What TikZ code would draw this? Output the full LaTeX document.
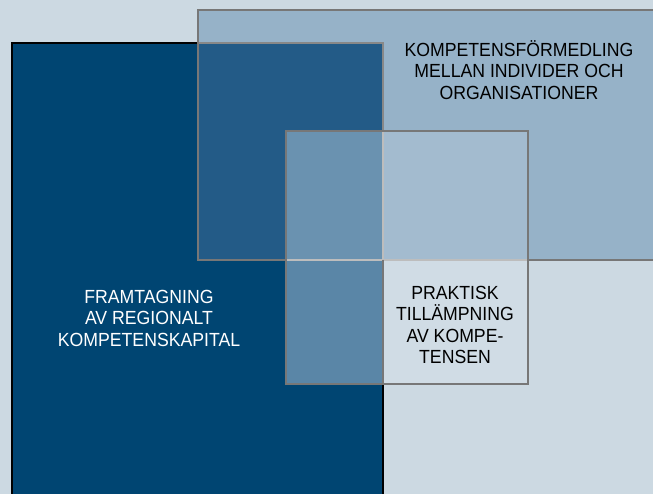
\documentclass[tikz,border=0pt]{standalone}
\usepackage{fontspec}
\newfontfamily\labfont[FakeStretch=0.93]{Liberation Sans}
\definecolor{bgc}{RGB}{204,217,226}
\definecolor{dk}{RGB}{0,69,114}
\definecolor{tp}{RGB}{150,178,200}
\definecolor{dt}{RGB}{35,91,135}
\definecolor{idt}{RGB}{106,146,176}
\definecolor{itc}{RGB}{163,187,207}
\definecolor{idc}{RGB}{90,134,167}
\definecolor{ioc}{RGB}{208,220,229}
\definecolor{gline}{RGB}{119,119,119}
\definecolor{lgline}{RGB}{189,189,189}
\definecolor{mgline}{RGB}{136,136,136}
\begin{document}
\begin{tikzpicture}[x=1pt,y=-1pt,
  edge/.style={line width=2.5pt},
  lab/.style={font=\labfont\fontsize{19}{21.5}\selectfont, align=center, inner sep=0pt}]
\useasboundingbox (0,0) rectangle (653,494);
\clip (0,0) rectangle (653,494);
\fill[bgc] (0,0) rectangle (653,494);
% fills
\fill[dk] (12,43) rectangle (383,500);
\fill[tp] (198,10) rectangle (660,260);
\fill[dt] (198,43) rectangle (383,260);
\fill[idt] (286,131) rectangle (383,260);
\fill[itc] (383,131) rectangle (528,260);
\fill[idc] (286,260) rectangle (383,384);
\fill[ioc] (383,260) rectangle (528,384);
% lines
\draw[edge, black] (12,500) -- (12,43) -- (198,43);
\draw[edge, black] (383,384) -- (383,500);
\draw[edge, mgline] (198,43) -- (383,43) -- (383,131);
\draw[edge, lgline] (286,260) -- (528,260);
\draw[edge, lgline] (383,131) -- (383,260);
\draw[edge, gline] (660,10) -- (198,10) -- (198,260) -- (286,260);
\draw[edge, gline] (528,260) -- (660,260);
\draw[edge, gline] (286,131) rectangle (528,384);
\draw[edge, gline] (383,260) -- (383,384);
% labels
\node[lab, text=black] (top) at (519,70) {KOMPETENSFÖRMEDLING\\MELLAN INDIVIDER OCH\\ORGANISATIONER};
\node[lab, text=white] (left) at (149,318) {FRAMTAGNING\\AV REGIONALT\\KOMPETENSKAPITAL};
\node[lab, text=black] (prak) at (455,325) {PRAKTISK\\TILLÄMPNING\\AV KOMPE-\\TENSEN};
\end{tikzpicture}
\end{document}
